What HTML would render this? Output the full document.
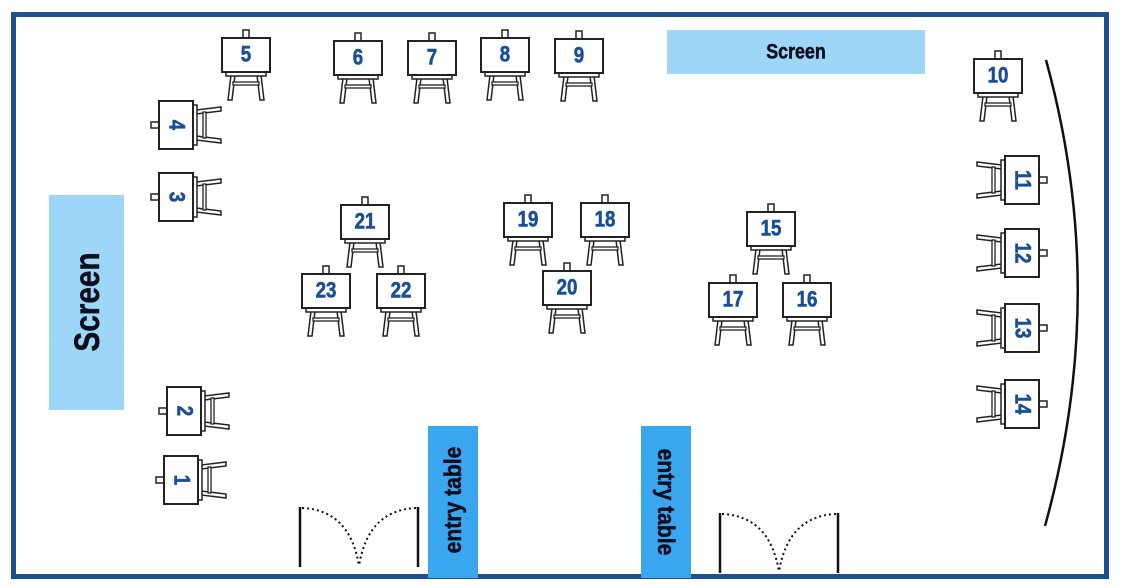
<!DOCTYPE html>
<html><head><meta charset="utf-8"><style>
html,body{margin:0;padding:0;background:#fff;}
svg{display:block;}
.n{font-family:"Liberation Sans",sans-serif;font-weight:bold;fill:#1a4f96;stroke:#1a4f96;stroke-width:0.6;font-size:22px;text-anchor:middle;dominant-baseline:central;}
.s{font-family:"Liberation Sans",sans-serif;font-weight:bold;fill:#0a0f1e;stroke:#0a0f1e;stroke-width:0.5;text-anchor:middle;dominant-baseline:central;}
</style></head><body>
<svg width="1121" height="586" viewBox="0 0 1121 586" xmlns="http://www.w3.org/2000/svg">
<defs>
<g id="e" stroke="#222" fill="#fff">
<rect x="-3" y="-25" width="6" height="8" stroke-width="1.5"/>
<polygon points="-15,20 -11,20 -14,45 -18,45" stroke-width="1.5"/>
<polygon points="15,20 11,20 14,45 18,45" stroke-width="1.5"/>
<rect x="-13" y="27" width="26" height="3" stroke-width="1.3"/>
<rect x="-20" y="17" width="40" height="4" stroke-width="1.5"/>
<rect x="-24" y="-17" width="48" height="34" stroke-width="2"/>
</g>
</defs>
<rect x="13.5" y="14.5" width="1093" height="562" fill="none" stroke="#1d4f91" stroke-width="5"/>
<rect x="667" y="30" width="258" height="44" fill="#9dd6f7"/>
<text class="s" font-size="21" transform="translate(796 52) scale(0.85 1)">Screen</text>
<rect x="49" y="195" width="75" height="215" fill="#9dd6f7"/>
<text class="s" font-size="35" transform="translate(87 302) rotate(-90) scale(0.85 1)">Screen</text>
<rect x="428" y="426" width="50" height="152" fill="#3aa6ef"/>
<text class="s" font-size="24" transform="translate(453 500) rotate(-90) scale(0.88 1)">entry table</text>
<rect x="641" y="426" width="50" height="152" fill="#3aa6ef"/>
<text class="s" font-size="24" transform="translate(666 502) rotate(90) scale(0.88 1)">entry table</text>
<path d="M1046 60 Q1110 292 1045 526" fill="none" stroke="#111" stroke-width="2.5"/>
<g stroke="#111" fill="none">
<line x1="300" y1="507" x2="300" y2="567" stroke-width="2.5"/>
<line x1="418" y1="507" x2="418" y2="567" stroke-width="2.5"/>
<path d="M302 508 Q350 510 359 566 M416 508 Q368 510 359 566" stroke-width="2" stroke-dasharray="2 3"/>
<line x1="720" y1="513" x2="720" y2="573" stroke-width="2.5"/>
<line x1="838" y1="513" x2="838" y2="573" stroke-width="2.5"/>
<path d="M722 514 Q770 516 779 572 M836 514 Q788 516 779 572" stroke-width="2" stroke-dasharray="2 3"/>
</g>
<g transform="translate(246 55)"><use href="#e"/><text class="n" transform="scale(.85 1)">5</text></g>
<g transform="translate(358 58)"><use href="#e"/><text class="n" transform="scale(.85 1)">6</text></g>
<g transform="translate(432 58)"><use href="#e"/><text class="n" transform="scale(.85 1)">7</text></g>
<g transform="translate(505 55)"><use href="#e"/><text class="n" transform="scale(.85 1)">8</text></g>
<g transform="translate(579 56)"><use href="#e"/><text class="n" transform="scale(.85 1)">9</text></g>
<g transform="translate(998 76)"><use href="#e"/><text class="n" transform="scale(.85 1)">10</text></g>
<g transform="translate(365 222)"><use href="#e"/><text class="n" transform="scale(.85 1)">21</text></g>
<g transform="translate(326 291)"><use href="#e"/><text class="n" transform="scale(.85 1)">23</text></g>
<g transform="translate(401 291)"><use href="#e"/><text class="n" transform="scale(.85 1)">22</text></g>
<g transform="translate(528 220)"><use href="#e"/><text class="n" transform="scale(.85 1)">19</text></g>
<g transform="translate(605 220)"><use href="#e"/><text class="n" transform="scale(.85 1)">18</text></g>
<g transform="translate(567 288)"><use href="#e"/><text class="n" transform="scale(.85 1)">20</text></g>
<g transform="translate(771 229)"><use href="#e"/><text class="n" transform="scale(.85 1)">15</text></g>
<g transform="translate(733 300)"><use href="#e"/><text class="n" transform="scale(.85 1)">17</text></g>
<g transform="translate(807 300)"><use href="#e"/><text class="n" transform="scale(.85 1)">16</text></g>
<g transform="translate(176 125) rotate(-90)"><use href="#e"/><text class="n" transform="rotate(180) scale(.85 1)">4</text></g>
<g transform="translate(176 197) rotate(-90)"><use href="#e"/><text class="n" transform="rotate(180) scale(.85 1)">3</text></g>
<g transform="translate(184 411) rotate(-90)"><use href="#e"/><text class="n" transform="rotate(180) scale(.85 1)">2</text></g>
<g transform="translate(181 480) rotate(-90)"><use href="#e"/><text class="n" transform="rotate(180) scale(.85 1)">1</text></g>
<g transform="translate(1022 180) rotate(90)"><use href="#e"/><text class="n" transform="scale(.85 1)">11</text></g>
<g transform="translate(1022 253) rotate(90)"><use href="#e"/><text class="n" transform="scale(.85 1)">12</text></g>
<g transform="translate(1022 328) rotate(90)"><use href="#e"/><text class="n" transform="scale(.85 1)">13</text></g>
<g transform="translate(1022 404) rotate(90)"><use href="#e"/><text class="n" transform="scale(.85 1)">14</text></g>
</svg>
</body></html>
